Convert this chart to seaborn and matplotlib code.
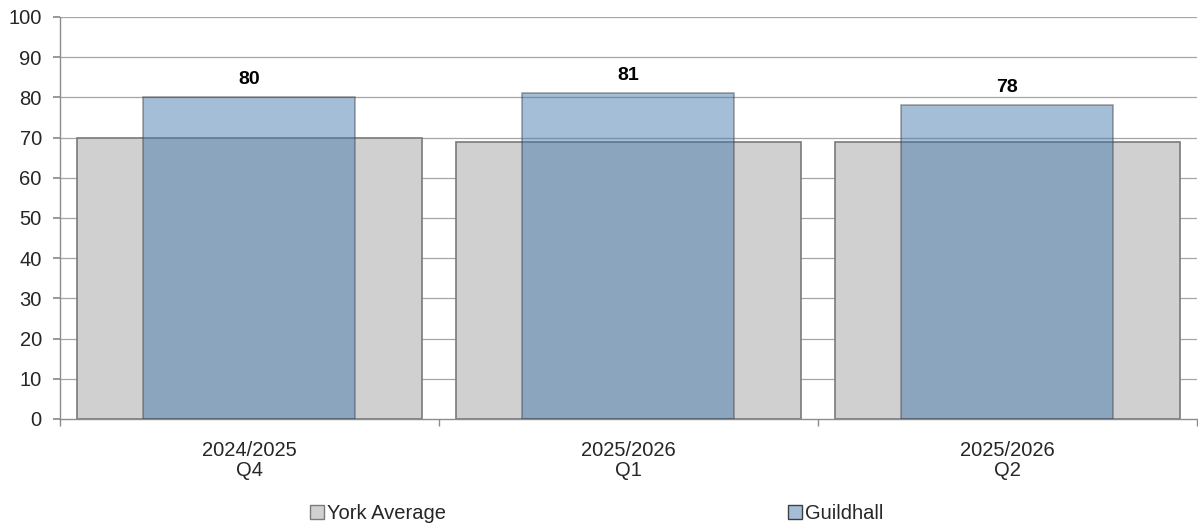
import matplotlib
matplotlib.use("Agg")
import matplotlib.pyplot as plt
import seaborn as sns
import pandas as pd
from matplotlib.patches import Patch
from matplotlib.ticker import FixedLocator

categories = ["2024/2025\nQ4", "2025/2026\nQ1", "2025/2026\nQ2"]
york_average = [70, 69, 69]
guildhall = [80, 81, 78]

sns.set_theme(style="white")
plt.rcParams['font.family'] = ['Liberation Sans', 'DejaVu Sans']

df = pd.DataFrame({"period": categories, "York Average": york_average, "Guildhall": guildhall})

fig = plt.figure(figsize=(11.98, 5.29), dpi=100)
ax = fig.add_axes([0.050, 0.208, 0.949, 0.760])

grid_c = "#a6a6a6"
for v in range(10, 101, 10):
    ax.axhline(v, color=grid_c, lw=0.9, zorder=0)

sns.barplot(data=df, x="period", y="York Average", ax=ax, width=0.91,
            color="#d0d0d0", saturation=1, edgecolor="#7a7a7a", linewidth=1.2, zorder=2)
sns.barplot(data=df, x="period", y="Guildhall", ax=ax, width=0.56,
            color="#4075ac", alpha=0.47, saturation=1, edgecolor="#404040",
            linewidth=1.2, zorder=3)

for i, v in enumerate(guildhall):
    ax.text(i, v + 2.4, f"{v}", ha="center", va="bottom", fontsize=14,
            fontweight="bold", color="black")

ax.set_xlim(-0.5, 2.5)
ax.set_ylim(0, 100)
ax.set_yticks(range(0, 101, 10))
ax.set_xlabel("")
ax.set_ylabel("")
ax.tick_params(axis="y", labelsize=14.5, length=5, color="#8c8c8c", direction="out", left=True, pad=8)
ax.tick_params(axis="x", which="major", length=0, labelsize=14.5, pad=16)
for lbl in ax.get_xticklabels():
    lbl.set_linespacing(1.05)
ax.xaxis.set_minor_locator(FixedLocator([-0.5, 0.5, 1.5, 2.5]))
ax.tick_params(axis="x", which="minor", length=5, color="#8c8c8c", direction="out", bottom=True)

for s in ["top", "right"]:
    ax.spines[s].set_visible(False)
for s in ["left", "bottom"]:
    ax.spines[s].set_color("#8c8c8c")
    ax.spines[s].set_linewidth(1.0)

handles = [Patch(facecolor="#d0d0d0", edgecolor="#7a7a7a", label="York Average"),
           Patch(facecolor="#a5bed8", edgecolor="#404040", label="Guildhall")]
fig.legend(handles=handles, loc="center", bbox_to_anchor=(0.498, 0.03), ncol=2,
           frameon=False, fontsize=14.5, handlelength=0.7, handleheight=0.7,
           handletextpad=0.15, columnspacing=17)

fig.savefig("out.png", dpi=100)
